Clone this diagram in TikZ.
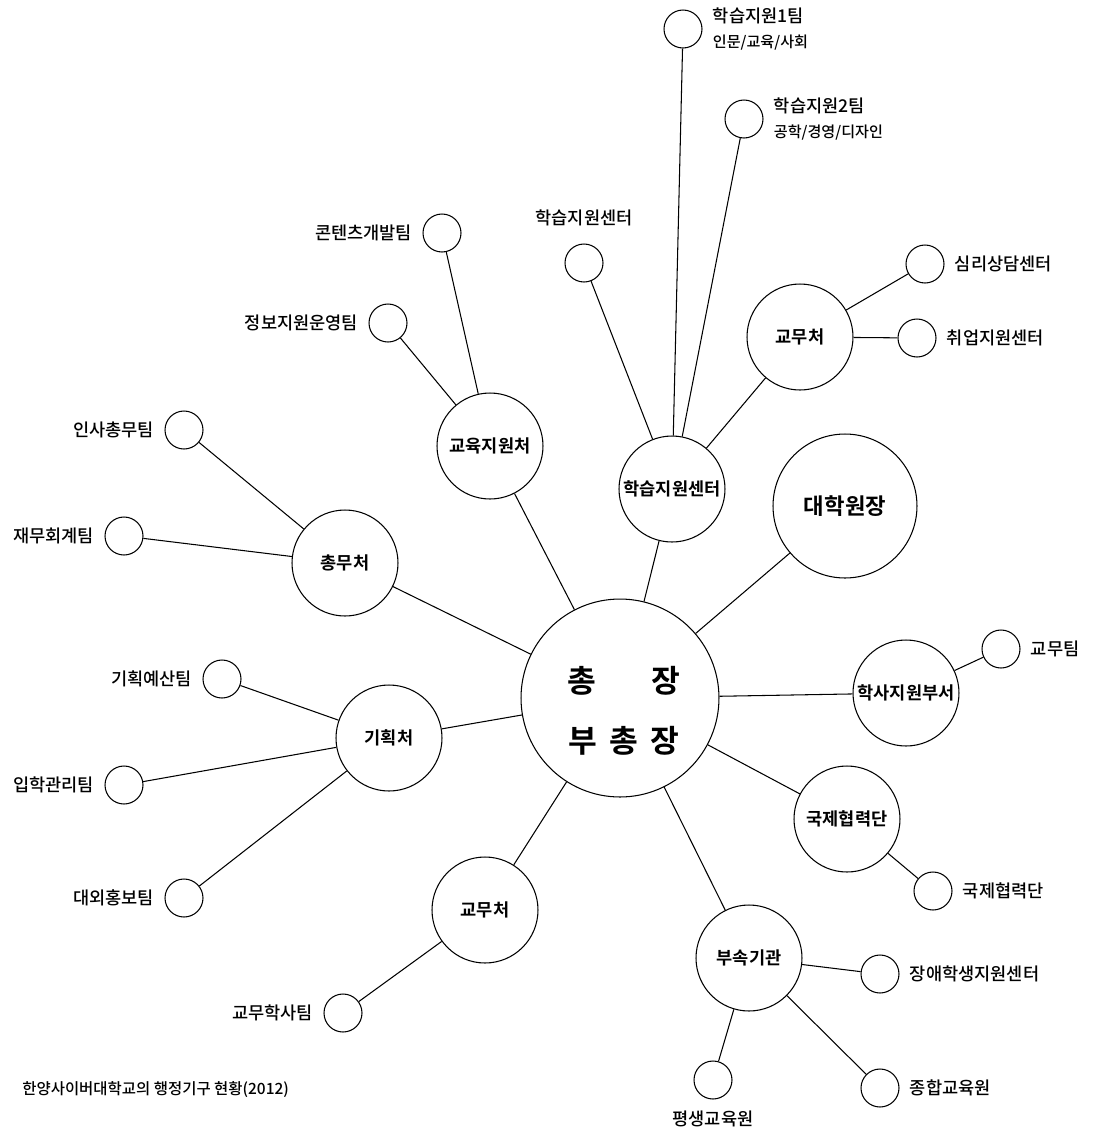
\documentclass[tikz,border=0pt]{standalone}
\usepackage{fontspec}
\setmainfont{Noto Sans CJK KR}[UprightFont={* Medium}, BoldFont={* Bold}]
\usepackage{tikz}
\usetikzlibrary{positioning}
\tikzset{
  hub/.style={circle, draw, line width=0.6pt, minimum size=2.12cm, inner sep=0pt, font=\fontsize{10}{12}\selectfont\bfseries},
  leaf/.style={circle, draw, line width=0.6pt, minimum size=0.76cm, inner sep=0pt},
  lbl/.style={font=\fontsize{10}{12}\selectfont, inner sep=0pt},
  link/.style={line width=0.6pt},
}

\begin{document}
\begin{tikzpicture}[x=0.02cm, y=-0.02cm]
    \useasboundingbox (0,0) rectangle (1107,1134);

    % Center
    \node[circle, draw, line width=0.6pt, minimum size=3.96cm, inner sep=0pt] (chong) at (620,698) {};
    \node[align=center, inner sep=0pt, font=\fontsize{17.8}{34}\selectfont\bfseries] (chong-t) at (624,711)
        {총\hspace{1.75em}장\\부\hspace{0.38em}총\hspace{0.38em}장};

    % Offices
    \node[hub] (gyoyuk) at (490,446) {교육지원처};
    \node[hub] (hakseup) at (672,489) {학습지원센터};
    \node[hub] (gyomuA) at (800,337) {교무처};
    \node[hub, minimum size=2.88cm, font=\fontsize{12.7}{15}\selectfont\bfseries] (daehak) at (845,506) {대학원장};
    \node[hub] (chongmu) at (345,563) {총무처};
    \node[hub] (gihoek) at (389,738) {기획처};
    \node[hub] (haksa) at (906,693) {학사지원부서};
    \node[hub] (gukje) at (847,819) {국제협력단};
    \node[hub] (gyomuB) at (485,910) {교무처};
    \node[hub] (busok) at (749,958) {부속기관};

    % Teams
    \foreach \n/\x/\y in {lt1/683/29, lt2/744/119, lc/584/263, kd/442/233, jw/388/323,
                          sr/925/264, cu/917/338, is/184/430, jm/124/536, gy/222/679,
                          ip/124/785, dh/184/898, gh/343/1013, gt/1001/649, gj/933/891,
                          ja/880/974, pg/713/1080, jh/880/1088}{
        \node[leaf] (\n) at (\x,\y) {};
    }

    % Team labels
    \foreach \n/\t in {kd/콘텐츠개발팀, jw/정보지원운영팀, is/인사총무팀, jm/재무회계팀,
                       gy/기획예산팀, ip/입학관리팀, dh/대외홍보팀, gh/교무학사팀}{
        \node[lbl, left=0.2cm of \n] (\n-t) {\t};
    }
    \foreach \n/\t in {sr/심리상담센터, cu/취업지원센터, gt/교무팀, gj/국제협력단,
                       ja/장애학생지원센터, jh/종합교육원}{
        \node[lbl, right=0.2cm of \n] (\n-t) {\t};
    }
    \node[lbl, align=left, right=0.2cm of lt1] (lt1-t)
        {학습지원1팀\\[2.5pt]{\fontsize{8.6}{10}\selectfont 인문/교육/사회}};
    \node[lbl, align=left, right=0.2cm of lt2] (lt2-t)
        {학습지원2팀\\[2.5pt]{\fontsize{8.6}{10}\selectfont 공학/경영/디자인}};
    \node[lbl, above=0.35cm of lc] (lc-t) {학습지원센터};
    \node[lbl, below=0.22cm of pg] (pg-t) {평생교육원};

    % Links
    \foreach \a/\b in {chong/gyoyuk, chong/hakseup, chong/daehak, chong/haksa, chong/gukje,
                       chong/busok, chong/gyomuB, chong/gihoek, chong/chongmu,
                       gyoyuk/kd, gyoyuk/jw, hakseup/lt1, hakseup/lt2, hakseup/lc, hakseup/gyomuA,
                       gyomuA/sr, gyomuA/cu, chongmu/is, chongmu/jm, gihoek/gy, gihoek/ip, gihoek/dh,
                       haksa/gt, gukje/gj, busok/ja, busok/pg, busok/jh, gyomuB/gh}{
        \draw[link] (\a) -- (\b);
    }

    % Caption
    \node[font=\fontsize{8.8}{10}\selectfont, anchor=west, inner sep=0pt] (cap) at (22,1090)
        {한양사이버대학교의 행정기구 현황(2012)};
\end{tikzpicture}
\end{document}
